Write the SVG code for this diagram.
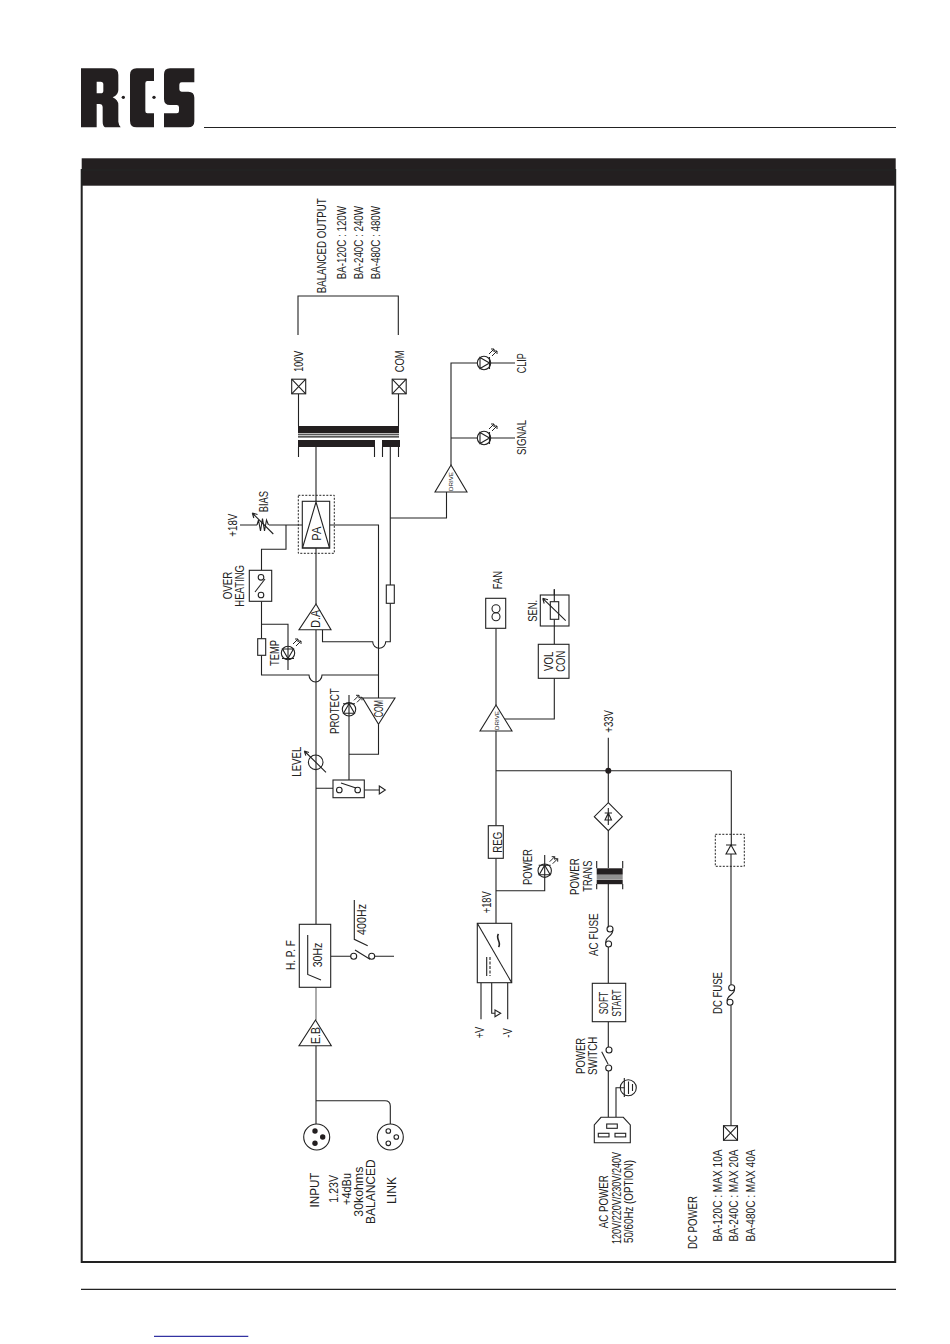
<svg xmlns="http://www.w3.org/2000/svg" xmlns:xlink="http://www.w3.org/1999/xlink" width="950" height="1344" viewBox="0 0 950 1344">
<style>
text{font-family:"Liberation Sans",Arial,sans-serif;font-size:12.5px;fill:#222}
.s{font-size:12px}
.t{font-size:6px}
.l,.c line,.c path,.c polyline{fill:none;stroke:#222;stroke-width:1.1}
.g{fill:none;stroke:#6a6a6a;stroke-width:1.2}
.b{fill:#fff;stroke:#222;stroke-width:1.1}
.n{fill:none;stroke:#222;stroke-width:1.1}
.d{fill:none;stroke:#222;stroke-width:1;stroke-dasharray:2 1.5}
.k{fill:#231f20;stroke:none}
</style>
<defs>
<g id="led-lamp">
<circle class="n" r="6.7"/>
<path class="n" style="stroke-width:1" d="M5,-9 L10,-14 M8,-7 L13,-12 M7,-14 L10,-14 L10,-11 M10,-12 L13,-12 L13,-9"/>
</g>
<g id="led-tri"><path class="n" d="M0,-5.5 L5.5,4 H-5.5 Z M-6,-5.5 H6"/></g>
<g id="term"><rect class="b" x="-7" y="-7.3" width="14" height="14.6" stroke="#444"/><path class="n" d="M-7,-7.3 L7,7.3 M7,-7.3 L-7,7.3"/></g>
</defs>
<rect width="950" height="1344" fill="#fff"/>
<g id="logo">
<g transform="translate(70,50) scale(.33333)" class="k">
<path fill-rule="evenodd" d="M33,55 H125 Q145,55 145,75 V120 Q145,135 128,142 Q145,150 145,165 V215 Q147,228 152,232 H105 Q98,228 98,215 V172 Q98,162 88,162 H80 V232 H33 Z M80,95 H92 Q100,95 100,103 V122 Q100,130 92,130 H80 Z"/>
<path d="M200,55 H252 V93 H232 Q226,93 226,100 V183 Q226,190 232,190 H252 V232 H200 Q180,232 180,212 V75 Q180,55 200,55Z"/>
<path d="M300,55 H373 V97 H335 Q328,97 328,104 V118 Q328,125 335,125 H355 Q373,125 373,143 V214 Q373,232 355,232 H282 V190 H320 Q327,190 327,183 V172 Q327,165 320,165 H300 Q282,165 282,147 V73 Q282,55 300,55Z"/>
<circle cx="160" cy="142" r="5"/><circle cx="252" cy="142" r="5"/>
</g>
</g>
<g id="page">
<line x1="204" y1="127.5" x2="896" y2="127.5" stroke="#222" stroke-width="1.2"/>
<rect x="81.7" y="158.3" width="814" height="27.4" fill="#231f20"/>
<rect x="81.7" y="170" width="813.5" height="1092" fill="none" stroke="#222" stroke-width="2"/>
<line x1="81" y1="1289.3" x2="896" y2="1289.3" stroke="#222" stroke-width="1.2"/>
<line x1="154" y1="1336.3" x2="248.3" y2="1336.3" stroke="#00008b" stroke-width="1"/>
</g>
<g id="connectors" class="c">
<polyline points="298,335 298,296 398.3,296 398.3,335"/>
<path d="M298.5,394 V426 M398.5,394 V426 M298.5,447 V457 M374.5,447 V457 M382.5,447 V457 M398.5,447 V457"/>
<path d="M316,447 V502 M316,548 V604"/>
<path d="M390.3,447 V585 M390.3,603.3 V641.7 H385.7 A6.5,6.5 0 0 1 372.7,641.7 H322.5 V629.7"/>
<path d="M390.3,518 H446.5 V492"/>
<path d="M451,465 V363 H477.3 M490.7,363 H515 M451,438 H477.3 M490.7,438 H515"/>
<path d="M240,525 H257 M269,525 H302.3 M286,525 V549.3 H261.5 V570.3 M261.5,601.3 V638.7 M261.5,655.3 V675 H309 A6.5,7 0 0 0 322,675 H378.5"/>
<path d="M329.7,525 H378.5 V698 M261.5,624.3 H288 V670"/>
<path d="M316,629.7 V924.3" />
<path d="M316,788.3 H333 M364.3,790 H379.3"/>
<path d="M378.5,724.3 V754.3 H349 V780 M349,695 V754.3"/>
<path class="g" style="stroke:#888;stroke-width:1.4" d="M316,987.3 V1020"/>
<path d="M330.7,956.3 H350.7 M374.7,956.3 H394"/>
<path d="M316,1045.7 V1124 M316,1100.7 H385 Q390.3,1100.7 390.3,1106 V1124"/>
<path d="M496,628.3 V705 M504,719 H554.3 V678.3 M554.3,644.3 V589.3"/>
<path class="g" d="M496,731 V825.7 M496,770.7 H731.3 M496,858.3 V923.3"/>
<path d="M731.3,770.7 V845 M608.3,737.7 V802.7"/>
<path class="g" d="M608.3,830.7 V868 M608.3,884 V927.5 M608.3,947 V983.3 M608.3,1021.7 V1047 M608.3,1071 V1117.3"/>
<path class="g" d="M731,854 V984.7 M731,1005.3 V1126"/>
<path d="M496,890.7 H544.7 V855"/>
<path d="M481,982.7 V1019.3 M491.7,982.7 V1013.3 H495 M507.7,982.7 V1019.3"/>
<path d="M616,1117.3 V1087.7 H624.3"/>
</g>
<g id="node-output-label">
<text transform="translate(326,293.3) rotate(-90)" textLength="95" lengthAdjust="spacingAndGlyphs">BALANCED OUTPUT</text>
<text class="s" transform="translate(346,279.3) rotate(-90)" textLength="73.3" lengthAdjust="spacingAndGlyphs">BA-120C : 120W</text>
<text class="s" transform="translate(363,279.3) rotate(-90)" textLength="73.3" lengthAdjust="spacingAndGlyphs">BA-240C : 240W</text>
<text class="s" transform="translate(380,279.3) rotate(-90)" textLength="73.3" lengthAdjust="spacingAndGlyphs">BA-480C : 480W</text>
</g>
<g id="node-term-100v"><use xlink:href="#term" href="#term" x="298.7" y="386.5"/>
<text class="s" transform="translate(303,371.7) rotate(-90)" textLength="21" lengthAdjust="spacingAndGlyphs">100V</text></g>
<g id="node-term-com"><use xlink:href="#term" href="#term" x="399.2" y="386.5"/>
<text class="s" transform="translate(404,372.3) rotate(-90)" textLength="22" lengthAdjust="spacingAndGlyphs">COM</text></g>
<g id="node-output-trans">
<rect class="k" x="298" y="426" width="101" height="7.3"/>
<path class="n" d="M298,434.8 H399 M298,436.9 H399"/>
<rect class="k" x="298" y="440" width="77" height="7"/>
<rect class="k" x="382" y="440" width="18" height="7"/>
</g>
<g id="node-led-clip"><use href="#led-lamp" x="484" y="363"/><use href="#led-tri" transform="translate(484,363) rotate(90)"/>
<text class="s" transform="translate(526.3,373.3) rotate(-90)" textLength="20" lengthAdjust="spacingAndGlyphs">CLIP</text></g>
<g id="node-led-signal"><use href="#led-lamp" x="484" y="438"/><use href="#led-tri" transform="translate(484,438) rotate(90)"/>
<text class="s" transform="translate(526.3,455) rotate(-90)" textLength="35" lengthAdjust="spacingAndGlyphs">SIGNAL</text></g>
<g id="node-drive-1"><path class="b" d="M451,465 L467,492 H435 Z"/>
<text class="t" transform="translate(453.3,491) rotate(-90)" textLength="19" lengthAdjust="spacingAndGlyphs">DRIVE</text></g>
<g id="node-pa">
<rect class="d" x="298.3" y="495.3" width="36" height="58"/>
<rect class="b" x="302.3" y="501.3" width="27.4" height="46.7"/>
<path class="n" d="M316,502 L329.5,548 H302.5 Z"/>
<text transform="translate(320.5,540.7) rotate(-90)" textLength="14" lengthAdjust="spacingAndGlyphs">PA</text>
</g>
<g id="node-bias">
<path class="n" d="M257,525 L258.5,520 L260.5,531 L262.5,518.5 L264.5,531 L266.5,520 L268.5,525"/>
<path class="n" d="M273.3,534 L252.3,513 M252.3,513 L257.5,514.5 M252.3,513 L253.8,518"/>
<text class="s" transform="translate(268,512.3) rotate(-90)" textLength="21.3" lengthAdjust="spacingAndGlyphs">BIAS</text>
<text class="s" transform="translate(236.5,536.7) rotate(-90)" textLength="23" lengthAdjust="spacingAndGlyphs">+18V</text>
</g>
<g id="node-over-heating">
<rect class="b" x="249.3" y="570.3" width="22.4" height="31"/>
<circle class="n" cx="261" cy="577.3" r="2.8"/><circle class="n" cx="261" cy="595" r="2.8"/>
<path class="n" d="M255,592 L265,579"/>
<text class="s" transform="translate(231.5,599.3) rotate(-90)" textLength="27.7" lengthAdjust="spacingAndGlyphs">OVER</text>
<text class="s" transform="translate(243.8,606.7) rotate(-90)" textLength="41.7" lengthAdjust="spacingAndGlyphs">HEATING</text>
</g>
<g id="node-temp">
<rect class="b" x="257.7" y="638.7" width="8" height="16.6"/>
<use href="#led-lamp" x="288" y="653"/><use href="#led-tri" transform="translate(288,653) rotate(180)"/>
<text class="s" transform="translate(279,666) rotate(-90)" textLength="26" lengthAdjust="spacingAndGlyphs">TEMP</text>
</g>
<g id="node-da"><path class="b" d="M316,604 L331,629.7 H299 Z"/>
<text class="s" transform="translate(319.5,627.7) rotate(-90)" textLength="17.7" lengthAdjust="spacingAndGlyphs">D.A</text></g>
<g id="node-fuse-out"><rect class="b" x="386.3" y="585" width="8" height="18.3"/></g>
<g id="node-com"><path class="b" d="M362.7,698 H395 L378.5,724.3 Z"/>
<text class="s" transform="translate(383.3,717.3) rotate(-90)" textLength="17.3" lengthAdjust="spacingAndGlyphs">COM</text></g>
<g id="node-protect">
<use href="#led-lamp" x="349" y="709.3"/><use href="#led-tri" x="349" y="709.3"/>
<text class="s" transform="translate(339,734) rotate(-90)" textLength="45.7" lengthAdjust="spacingAndGlyphs">PROTECT</text>
</g>
<g id="node-level">
<circle class="n" cx="315.7" cy="762.3" r="7.3" fill="#fff"/>
<path class="n" d="M326,772.3 L304.3,751 M304.3,751 L309,752.5 M304.3,751 L305.8,755.7"/>
<text class="s" transform="translate(300.5,776.7) rotate(-90)" textLength="30" lengthAdjust="spacingAndGlyphs">LEVEL</text>
</g>
<g id="node-mute">
<rect class="b" x="333" y="780" width="31.3" height="17.7" stroke="#555"/>
<circle class="n" cx="339.3" cy="790" r="2.8"/><circle class="n" cx="357.7" cy="790" r="2.8"/>
<path class="n" d="M341,783 L356,788"/>
<path class="n" d="M379.3,786 L385.3,790 L379.3,794 Z"/>
</g>
<g id="node-hpf">
<rect class="b" x="299.3" y="924.3" width="31.4" height="63"/>
<path class="n" d="M307.7,935 V974.5 L321,980"/>
<text class="s" transform="translate(321.5,967.3) rotate(-90)" textLength="24.6" lengthAdjust="spacingAndGlyphs">30Hz</text>
<text class="s" transform="translate(295.3,970) rotate(-90)" textLength="30" lengthAdjust="spacingAndGlyphs">H. P. F</text>
</g>
<g id="node-400hz">
<path class="n" d="M354.3,900 V939.3 L367.7,945.7"/>
<circle class="n" cx="353.7" cy="956.3" r="3"/><circle class="n" cx="371.7" cy="956.3" r="3"/>
<path class="n" d="M355,950 L370,959.3"/>
<text class="s" transform="translate(366,935) rotate(-90)" textLength="31" lengthAdjust="spacingAndGlyphs">400Hz</text>
</g>
<g id="node-eb"><path class="b" d="M315.5,1020 L331.3,1045.7 H299 Z"/>
<text class="s" transform="translate(319.5,1044) rotate(-90)" textLength="17" lengthAdjust="spacingAndGlyphs">E.B</text></g>
<g id="node-input">
<circle class="n" cx="316.7" cy="1137" r="13"/>
<circle class="k" cx="315" cy="1131" r="2.7"/><circle class="k" cx="322.7" cy="1137" r="2.7"/><circle class="k" cx="315" cy="1143.3" r="2.7"/>
<text transform="translate(319,1207.5) rotate(-90)" textLength="35" lengthAdjust="spacingAndGlyphs">INPUT</text>
<text transform="translate(338,1202.7) rotate(-90)" textLength="27.7" lengthAdjust="spacingAndGlyphs">1.23V</text>
<text transform="translate(350.8,1205) rotate(-90)" textLength="32" lengthAdjust="spacingAndGlyphs">+4dBu</text>
<text transform="translate(363,1216.7) rotate(-90)" textLength="50" lengthAdjust="spacingAndGlyphs">30kohms</text>
<text transform="translate(375,1224) rotate(-90)" textLength="64.7" lengthAdjust="spacingAndGlyphs">BALANCED</text>
</g>
<g id="node-link">
<circle class="n" cx="390.3" cy="1137" r="13"/>
<circle class="n" cx="388.3" cy="1131" r="2.3"/><circle class="n" cx="396.3" cy="1137" r="2.3"/><circle class="n" cx="388.3" cy="1143.3" r="2.3"/>
<text transform="translate(396,1204) rotate(-90)" textLength="27" lengthAdjust="spacingAndGlyphs">LINK</text>
</g>
<g id="node-fan">
<rect class="b" x="485.7" y="598.3" width="20" height="30" stroke="#444"/>
<circle class="n" cx="496" cy="608.8" r="4"/><circle class="n" cx="496" cy="616.8" r="4"/>
<text class="s" transform="translate(501.5,589.3) rotate(-90)" textLength="18.3" lengthAdjust="spacingAndGlyphs">FAN</text>
</g>
<g id="node-sen">
<rect class="b" x="540.3" y="595" width="28.7" height="31" stroke="#444"/>
<path class="n" d="M554.3,589.3 V601.7 M554.3,619.3 V626"/>
<rect class="b" x="550.3" y="601.7" width="8.4" height="17.6"/>
<path class="n" d="M565.7,620.7 L542.7,598.3 M542.7,598.3 L548,599.8 M542.7,598.3 L544.2,603.5"/>
<text class="s" transform="translate(536.5,621.7) rotate(-90)" textLength="21.7" lengthAdjust="spacingAndGlyphs">SEN.</text>
</g>
<g id="node-vol-con">
<rect class="b" x="538.3" y="644.3" width="30.7" height="34"/>
<text transform="translate(553.2,671) rotate(-90)" textLength="19.3" lengthAdjust="spacingAndGlyphs">VOL</text>
<text transform="translate(565.2,671.7) rotate(-90)" textLength="21" lengthAdjust="spacingAndGlyphs">CON</text>
</g>
<g id="node-drive-2"><path class="b" d="M496,705 L512,731 H480 Z"/>
<text class="t" transform="translate(498.7,730) rotate(-90)" textLength="19" lengthAdjust="spacingAndGlyphs">DRIVE</text></g>
<g id="node-33v">
<circle class="k" cx="608.3" cy="770.7" r="3"/>
<text class="s" transform="translate(612.5,732.7) rotate(-90)" textLength="22.7" lengthAdjust="spacingAndGlyphs">+33V</text>
</g>
<g id="node-bridge">
<path class="b" d="M608.3,802.7 L622.3,816.7 L608.3,830.7 L594.3,816.7 Z"/>
<path class="n" d="M608.3,813 L611.5,820 H605 Z M604.7,813 H612 M608.3,808 V825"/>
</g>
<g id="node-reg"><rect class="b" x="488.3" y="825.7" width="15" height="32.6"/>
<text transform="translate(501.5,852.7) rotate(-90)" textLength="21" lengthAdjust="spacingAndGlyphs">REG</text></g>
<g id="node-power-led">
<use href="#led-lamp" x="544.7" y="870.7"/><use href="#led-tri" x="544.7" y="870.7"/>
<text class="s" transform="translate(532,885) rotate(-90)" textLength="36" lengthAdjust="spacingAndGlyphs">POWER</text>
<text class="s" transform="translate(490.5,913.3) rotate(-90)" textLength="22" lengthAdjust="spacingAndGlyphs">+18V</text>
</g>
<g id="node-power-trans">
<rect class="k" x="596.7" y="868.3" width="26" height="6.4"/>
<path class="n" d="M596.7,876 H622.7 M596.7,878 H622.7"/>
<rect class="k" x="596.7" y="879.6" width="26" height="4.6"/>
<path class="n" d="M596.7,861 V868.3 M622.7,861 V868.3 M596.7,884 V889.3 M622.7,884 V889.3"/>
<text class="s" transform="translate(579,895) rotate(-90)" textLength="36.7" lengthAdjust="spacingAndGlyphs">POWER</text>
<text class="s" transform="translate(591.5,891.7) rotate(-90)" textLength="31" lengthAdjust="spacingAndGlyphs">TRANS</text>
</g>
<g id="node-ac-fuse">
<circle class="n" cx="610" cy="929" r="3"/><circle class="n" cx="608.6" cy="944" r="3"/>
<path class="n" d="M612.8,930 C613,937 605,936 605.8,943"/>
<text class="s" transform="translate(597.5,956) rotate(-90)" textLength="42.7" lengthAdjust="spacingAndGlyphs">AC FUSE</text>
</g>
<g id="node-psu">
<rect class="b" x="477.3" y="923.3" width="34.4" height="59.4"/>
<path class="n" d="M477.3,923.3 L511.7,982.7"/>
<path class="n" style="stroke-width:1.6" d="M498.5,934 C495,938 502,943 498.5,947"/>
<path class="n" d="M486.7,957 V976"/><path class="n" stroke-dasharray="3 1.5" d="M490,957 V976"/>
<path class="n" d="M495,1010 L500.7,1013.3 L495,1016.7 Z"/>
<text class="s" transform="translate(484.3,1038.3) rotate(-90)" textLength="11.6" lengthAdjust="spacingAndGlyphs">+V</text>
<text class="s" transform="translate(511.5,1037.7) rotate(-90)" textLength="9.4" lengthAdjust="spacingAndGlyphs">-V</text>
</g>
<g id="node-soft-start">
<rect class="b" x="592.3" y="983.3" width="33.4" height="38.4"/>
<text transform="translate(607.5,1014.3) rotate(-90)" textLength="22.6" lengthAdjust="spacingAndGlyphs">SOFT</text>
<text transform="translate(620.5,1016.7) rotate(-90)" textLength="27.3" lengthAdjust="spacingAndGlyphs">START</text>
</g>
<g id="node-power-switch">
<circle class="n" cx="609" cy="1050" r="3"/><circle class="n" cx="608.7" cy="1068" r="3"/>
<path class="n" d="M601.7,1051.7 L608,1064"/>
<text class="s" transform="translate(585,1074) rotate(-90)" textLength="36.3" lengthAdjust="spacingAndGlyphs">POWER</text>
<text class="s" transform="translate(597.2,1075) rotate(-90)" textLength="38.3" lengthAdjust="spacingAndGlyphs">SWITCH</text>
</g>
<g id="node-earth">
<circle class="n" cx="628.3" cy="1087.7" r="8"/>
<path class="n" d="M624.3,1078 V1097 M628.5,1081.5 V1094 M632.5,1084 V1091"/>
</g>
<g id="node-iec">
<path class="b" d="M594.3,1142.7 V1125 L601,1117.3 H623.3 L630.3,1125 V1142.7 Z"/>
<rect class="n" x="606.7" y="1124" width="10.6" height="4.3"/>
<rect class="n" x="598.3" y="1133.3" width="10.7" height="3.6"/>
<rect class="n" x="615" y="1133.3" width="10.7" height="3.6"/>
<text class="s" transform="translate(608,1228.3) rotate(-90)" textLength="53" lengthAdjust="spacingAndGlyphs">AC POWER</text>
<text class="s" transform="translate(620.7,1244) rotate(-90)" textLength="92" lengthAdjust="spacingAndGlyphs">120V/220V/230V/240V</text>
<text class="s" transform="translate(633,1243) rotate(-90)" textLength="83" lengthAdjust="spacingAndGlyphs">50/60Hz (OPTION)</text>
</g>
<g id="node-dc-diode">
<rect class="d" x="715.3" y="834.3" width="29" height="32"/>
<path class="n" d="M731,845 L736,854 H726 Z M726,845 H736.3"/>
</g>
<g id="node-dc-fuse">
<circle class="n" cx="731.7" cy="987.7" r="3"/><circle class="n" cx="730" cy="1002.3" r="3"/>
<path class="n" d="M734.5,989 C735,995 726.5,995 727.2,1001"/>
<text class="s" transform="translate(721.5,1014) rotate(-90)" textLength="42" lengthAdjust="spacingAndGlyphs">DC FUSE</text>
</g>
<g id="node-dc-power">
<use href="#term" x="730.5" y="1133"/>
<text class="s" transform="translate(697,1249) rotate(-90)" textLength="53" lengthAdjust="spacingAndGlyphs">DC POWER</text>
<text class="s" transform="translate(721.5,1241.5) rotate(-90)" textLength="92" lengthAdjust="spacingAndGlyphs">BA-120C : MAX 10A</text>
<text class="s" transform="translate(738.2,1241.5) rotate(-90)" textLength="92" lengthAdjust="spacingAndGlyphs">BA-240C : MAX 20A</text>
<text class="s" transform="translate(755.2,1241.5) rotate(-90)" textLength="92" lengthAdjust="spacingAndGlyphs">BA-480C : MAX 40A</text>
</g>
</svg>
